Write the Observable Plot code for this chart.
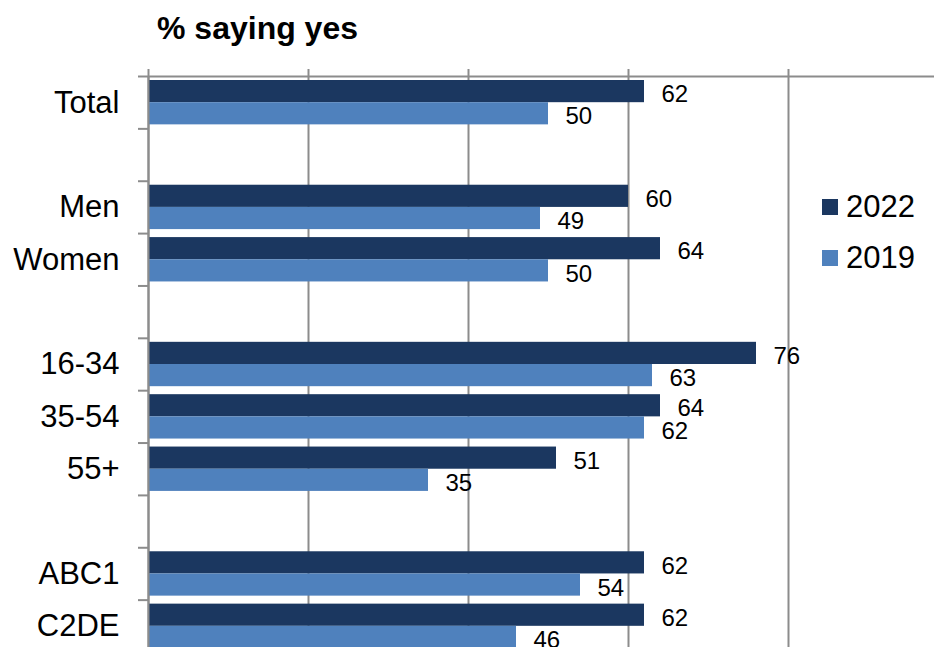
<!DOCTYPE html>
<html>
<head>
<meta charset="utf-8">
<script src="https://cdn.jsdelivr.net/npm/d3@7"></script>
<script src="https://cdn.jsdelivr.net/npm/@observablehq/plot@0.6"></script>
<style>
html, body { margin: 0; padding: 0; background: #fff; overflow: hidden; }
body { width: 934px; height: 647px; position: relative; font-family: "Liberation Sans", Arial, sans-serif; }
#title { position: absolute; left: 157px; top: 12px; font-size: 32px; font-weight: bold; line-height: 32px; color: #000; white-space: nowrap; }
#chart { position: absolute; left: 0; top: 50px; }
.sw { position: absolute; width: 16px; height: 16px; }
.lt { position: absolute; font-size: 31px; line-height: 31px; color: #000; }
</style>
</head>
<body>
<div id="title">% saying yes</div>
<div id="chart"></div>
<div id="legend"></div>
<script>
const groups = [["Total"], ["Men", "Women"], ["16-34", "35-54", "55+"], ["ABC1", "C2DE"]];
const categories = ["Total", "Men", "Women", "16-34", "35-54", "55+", "ABC1", "C2DE"];
const years = ["2022", "2019"];
const values2022 = [62, 60, 64, 76, 64, 51, 62, 62];
const values2019 = [50, 49, 50, 63, 62, 35, 54, 46];
const colors = ["#1b3760", "#4f81bd"];
const xTicks = [0, 20, 40, 60, 80];
const gray = "#8c8c8c";

// rows of the chart: groups separated by an empty row
const slots = [];
groups.forEach((g, i) => { if (i) slots.push(null); g.forEach(c => slots.push(c)); });
const slotOf = c => slots.indexOf(c);

const rows = [];
categories.forEach((c, i) => {
  const s = slotOf(c);
  rows.push({category: c, year: years[0], value: values2022[i], y1: s, y2: s + 0.5});
  rows.push({category: c, year: years[1], value: values2019[i], y1: s + 0.5, y2: s + 1});
});
const r22 = rows.filter(d => d.year === years[0]);
const r19 = rows.filter(d => d.year === years[1]);

const chart = Plot.plot({
  width: 934,
  height: 602,
  marginTop: 26,
  marginBottom: 0,
  marginLeft: 148,
  marginRight: -14,
  style: {fontFamily: "Liberation Sans, Arial, sans-serif", fontSize: "24px", color: "#000", background: "transparent", overflow: "visible"},
  x: {domain: [0, 100]},
  y: {domain: [0, slots.length], reverse: true},
  marks: [
    Plot.ruleX(xTicks, {stroke: gray, strokeWidth: 2}),
    Plot.rectX(r22, {x: "value", y1: "y1", y2: "y2", fill: colors[0], insetTop: 4}),
    Plot.rectX(r19, {x: "value", y1: "y1", y2: "y2", fill: colors[1], insetBottom: 4}),
    Plot.ruleX([0], {stroke: gray, strokeWidth: 2}),
    Plot.ruleY([0], {stroke: gray, strokeWidth: 2}),
    Plot.text(r22, {x: "value", y: d => (d.y1 + d.y2) / 2, text: d => String(d.value), textAnchor: "start", dx: 17, dy: 5, fill: "#000", fontSize: 24}),
    Plot.text(r19, {x: "value", y: d => (d.y1 + d.y2) / 2, text: d => String(d.value), textAnchor: "start", dx: 17, dy: 1, fill: "#000", fontSize: 24}),
    Plot.text(categories, {y: c => slotOf(c) + 0.5, text: c => c, frameAnchor: "left", textAnchor: "end", dx: -29, fill: "#000", fontSize: 31}),
    Plot.axisX({anchor: "top", ticks: xTicks, tickSize: 8, tickFormat: () => "", stroke: gray, strokeWidth: 2, label: null}),
    Plot.axisY({anchor: "left", ticks: d3.range(0, slots.length + 1), tickSize: 10, tickFormat: () => "", stroke: gray, strokeWidth: 2, label: null})
  ]
});
document.getElementById("chart").appendChild(chart);

// legend
const legend = document.getElementById("legend");
years.forEach((yr, i) => {
  const sw = document.createElement("div");
  sw.className = "sw";
  sw.style.left = "822px";
  sw.style.top = (199 + i * 51) + "px";
  sw.style.background = colors[i];
  legend.appendChild(sw);
  const t = document.createElement("div");
  t.className = "lt";
  t.style.left = "846px";
  t.style.top = (191 + i * 51) + "px";
  t.textContent = yr;
  legend.appendChild(t);
});
</script>
</body>
</html>
